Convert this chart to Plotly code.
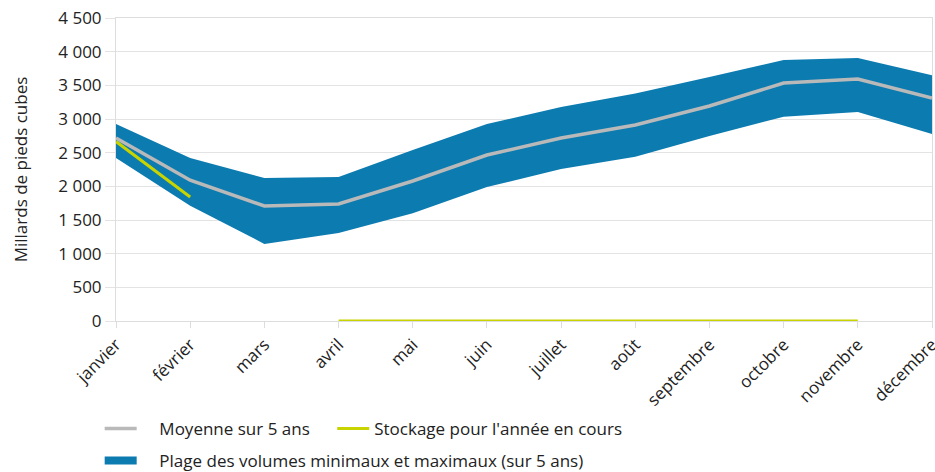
import plotly.graph_objects as go

mois = ["janvier", "février", "mars", "avril", "mai", "juin", "juillet",
        "août", "septembre", "octobre", "novembre", "décembre"]
plage_min = [2420, 1710, 1145, 1307, 1600, 1990, 2257, 2440, 2747, 3035, 3104, 2777]
plage_max = [2925, 2420, 2124, 2138, 2540, 2926, 3178, 3380, 3623, 3876, 3906, 3650]
moyenne = [2718, 2090, 1708, 1737, 2079, 2465, 2718, 2911, 3193, 3534, 3594, 3311]
annee_en_cours = [2665, 1841, None, 0, 0, 0, 0, 0, 0, 0, 0, None]

BLEU = "#0c7bb0"
GRIS = "#b9b9b9"
VERT = "#c8d400"
FONT = "Open Sans"
FS = 17
NBSP = "\u00a0\u00a0\u00a0\u00a0"

fig = go.Figure()

# plage min-max (bande)
fig.add_trace(go.Scatter(x=mois, y=plage_min, mode="lines", line=dict(width=0),
                         showlegend=False, hoverinfo="skip"))
fig.add_trace(go.Scatter(x=mois, y=plage_max, mode="lines", line=dict(width=0),
                         fill="tonexty", fillcolor=BLEU, showlegend=False,
                         hoverinfo="skip"))

fig.add_trace(go.Scatter(x=mois, y=moyenne, mode="lines", name=NBSP + "Moyenne sur 5 ans",
                         line=dict(color=GRIS, width=3.5), legend="legend"))
fig.add_trace(go.Scatter(x=mois, y=annee_en_cours, mode="lines",
                         name="Stockage pour l'année en cours",
                         line=dict(color=VERT, width=3), legend="legend3"))

# entree de legende pour la bande
fig.add_trace(go.Scatter(x=[None], y=[None], mode="lines",
                         name=NBSP + "Plage des volumes minimaux et maximaux (sur 5 ans)",
                         line=dict(color=BLEU, width=8), legend="legend2"))

leg = dict(orientation="h", xanchor="left", yanchor="middle", yref="container",
           font=dict(family=FONT, size=FS, color="#222222"), itemwidth=32)

fig.update_layout(
    width=935,
    height=472,
    margin=dict(l=116, r=3, t=18, b=151),
    paper_bgcolor="white",
    plot_bgcolor="white",
    separators=", ",
    font=dict(family=FONT, size=FS, color="#222222"),
    legend=dict(leg, x=-0.02, y=1 - 429 / 472),
    legend3=dict(leg, x=0.265, y=1 - 429 / 472),
    legend2=dict(leg, x=-0.02, y=1 - 461 / 472),
)

fig.update_xaxes(
    type="category",
    range=[0, 11],
    tickangle=-45,
    showgrid=False,
    showline=True,
    linecolor="#dddddd",
    linewidth=1,
    mirror=True,
    ticks="outside",
    ticklen=6,
    tickcolor="#dddddd",
    automargin=False,
    tickfont=dict(family=FONT, size=FS),
)
fig.update_yaxes(
    range=[0, 4500],
    dtick=500,
    tickformat=",",
    showgrid=True,
    gridcolor="#e3e3e3",
    gridwidth=1,
    showline=True,
    linecolor="#dddddd",
    mirror=True,
    ticks="outside",
    ticklen=10,
    tickcolor="#e3e3e3",
    zeroline=False,
    automargin=False,
    tickfont=dict(family=FONT, size=FS),
    title=dict(text="Millards de pieds cubes", font=dict(family=FONT, size=FS), standoff=26),
)

fig.write_html(
    "out.html",
    config={"displayModeBar": False},
    post_script="document.body.style.margin='0';document.body.style.overflow='hidden';",
)
